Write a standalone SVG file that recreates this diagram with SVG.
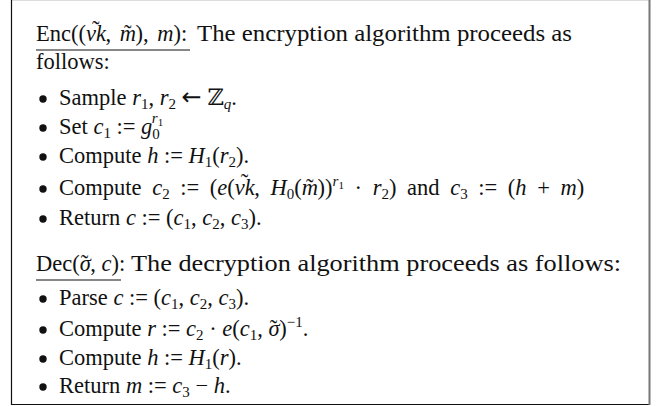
<svg xmlns="http://www.w3.org/2000/svg" width="660" height="406" viewBox="0 0 660 406">
  <style>
    text { font-family: "Liberation Serif", "DejaVu Serif", serif; font-size: 22.5px; fill: #111; }
    .i { font-style: italic; }
    .s { font-size: 15px; }
    .ss { font-size: 11px; }
    .p { font-size: 23.5px; }
    .arr { font-family: "DejaVu Sans", sans-serif; font-size: 24px; }
    .rule { stroke: #111; stroke-width: 1.2; }
    .dot { fill: #111; }
  </style>
  <rect x="0" y="0" width="660" height="406" fill="#fff"/>

  <!-- frame -->
  <g id="frame">
    <line x1="11" y1="0.5" x2="650" y2="0.5" stroke="#ddd" stroke-width="1"/>
    <line x1="11.5" y1="0" x2="11.5" y2="405" stroke="#111" stroke-width="1.2"/>
    <line x1="11" y1="404.5" x2="650" y2="404.5" stroke="#111" stroke-width="1.2"/>
    <line x1="649.5" y1="0" x2="649.5" y2="405" stroke="#777" stroke-width="2"/>
  </g>

  <!-- list bullets -->
  <g id="bullets">
    <circle class="dot" cx="43" cy="99" r="3.7"/>
    <circle class="dot" cx="43" cy="128" r="3.7"/>
    <circle class="dot" cx="43" cy="157" r="3.7"/>
    <circle class="dot" cx="43" cy="189" r="3.7"/>
    <circle class="dot" cx="43" cy="219" r="3.7"/>
    <circle class="dot" cx="43" cy="299" r="3.7"/>
    <circle class="dot" cx="43" cy="330" r="3.7"/>
    <circle class="dot" cx="43" cy="359" r="3.7"/>
    <circle class="dot" cx="43" cy="387" r="3.7"/>
  </g>

  <!-- encryption -->
  <g id="enc">
    <text x="36" y="41" word-spacing="3">Enc((<tspan class="i">vk</tspan><tspan dx="-14" dy="-4">˜</tspan><tspan dx="6" dy="4">, </tspan><tspan class="i">m</tspan><tspan dx="-12">˜</tspan><tspan dx="4">), </tspan><tspan class="i">m</tspan>):</text>
    <text class="p" x="197" y="41" textLength="375" lengthAdjust="spacingAndGlyphs">The encryption algorithm proceeds as</text>
    <line class="rule" x1="36" y1="50" x2="190" y2="50"/>
    <text x="36" y="69">follows:</text>

    <text x="59" y="105">Sample <tspan class="i">r</tspan><tspan class="s" dy="4">1</tspan><tspan dy="-4">, </tspan><tspan class="i">r</tspan><tspan class="s" dy="4">2</tspan><tspan dy="-4"> </tspan><tspan class="arr">←</tspan> ℤ<tspan class="s i" dy="4">q</tspan><tspan dy="-4">.</tspan></text>

    <text x="59" y="134">Set <tspan class="i">c</tspan><tspan class="s" dy="4">1</tspan><tspan dy="-4"> := </tspan><tspan class="i">g</tspan><tspan class="s" dy="5">0</tspan><tspan class="s i" dx="-8" dy="-16">r</tspan><tspan class="ss" dy="3">1</tspan></text>

    <text x="59" y="163">Compute <tspan class="i">h</tspan> := <tspan class="i">H</tspan><tspan class="s" dy="4">1</tspan><tspan dy="-4">(</tspan><tspan class="i">r</tspan><tspan class="s" dy="4">2</tspan><tspan dy="-4">).</tspan></text>

    <text x="59" y="195" word-spacing="5">Compute <tspan class="i">c</tspan><tspan class="s" dy="4">2</tspan><tspan dy="-4"> := (</tspan><tspan class="i">e</tspan>(<tspan class="i">vk</tspan><tspan dx="-14" dy="-5">˜</tspan><tspan dx="6" dy="5">, </tspan><tspan class="i">H</tspan><tspan class="s" dy="4">0</tspan><tspan dy="-4">(</tspan><tspan class="i">m</tspan><tspan dx="-12">˜</tspan><tspan dx="4">))</tspan><tspan class="s i" dy="-9">r</tspan><tspan class="ss" dy="3">1</tspan><tspan dy="6"> · </tspan><tspan class="i">r</tspan><tspan class="s" dy="4">2</tspan><tspan dy="-4">) and </tspan><tspan class="i">c</tspan><tspan class="s" dy="4">3</tspan><tspan dy="-4"> := (</tspan><tspan class="i">h</tspan> + <tspan class="i">m</tspan>)</text>

    <text x="59" y="225">Return <tspan class="i">c</tspan> := (<tspan class="i">c</tspan><tspan class="s" dy="4">1</tspan><tspan dy="-4">, </tspan><tspan class="i">c</tspan><tspan class="s" dy="4">2</tspan><tspan dy="-4">, </tspan><tspan class="i">c</tspan><tspan class="s" dy="4">3</tspan><tspan dy="-4">).</tspan></text>
  </g>

  <!-- decryption -->
  <g id="dec">
    <text x="36" y="271">Dec(<tspan class="i">σ</tspan><tspan dx="-10">˜</tspan><tspan dx="2">, </tspan><tspan class="i">c</tspan>):</text>
    <text class="p" x="131" y="271" textLength="490" lengthAdjust="spacingAndGlyphs">The decryption algorithm proceeds as follows:</text>
    <line class="rule" x1="36" y1="280" x2="121" y2="280"/>

    <text x="59" y="305">Parse <tspan class="i">c</tspan> := (<tspan class="i">c</tspan><tspan class="s" dy="4">1</tspan><tspan dy="-4">, </tspan><tspan class="i">c</tspan><tspan class="s" dy="4">2</tspan><tspan dy="-4">, </tspan><tspan class="i">c</tspan><tspan class="s" dy="4">3</tspan><tspan dy="-4">).</tspan></text>

    <text x="59" y="336">Compute <tspan class="i">r</tspan> := <tspan class="i">c</tspan><tspan class="s" dy="4">2</tspan><tspan dy="-4"> · </tspan><tspan class="i">e</tspan>(<tspan class="i">c</tspan><tspan class="s" dy="4">1</tspan><tspan dy="-4">, </tspan><tspan class="i">σ</tspan><tspan dx="-10">˜</tspan><tspan dx="2">)</tspan><tspan class="s" dy="-9">−1</tspan><tspan dy="9">.</tspan></text>

    <text x="59" y="365">Compute <tspan class="i">h</tspan> := <tspan class="i">H</tspan><tspan class="s" dy="4">1</tspan><tspan dy="-4">(</tspan><tspan class="i">r</tspan>).</text>

    <text x="59" y="393">Return <tspan class="i">m</tspan> := <tspan class="i">c</tspan><tspan class="s" dy="4">3</tspan><tspan dy="-4"> − </tspan><tspan class="i">h</tspan>.</text>
  </g>
</svg>
